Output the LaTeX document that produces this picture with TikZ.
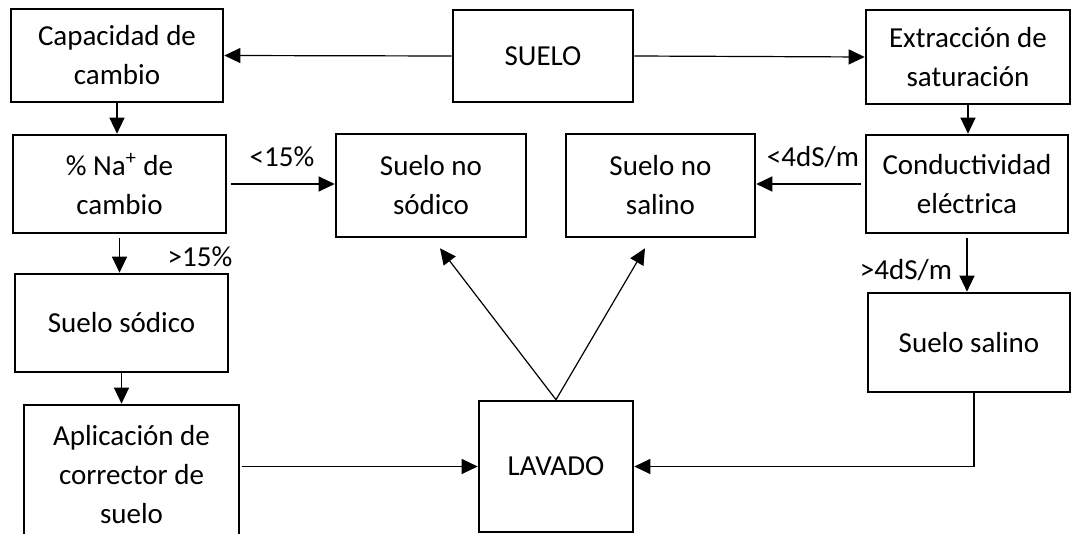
\documentclass[tikz,border=0pt]{standalone}
\usepackage{fontspec}
\setmainfont{Carlito}
\usetikzlibrary{arrows.meta}

\tikzset{
	box/.style={draw, line width=1.3pt, align=center, inner sep=0pt,
		font=\fontsize{14.5}{19.5}\selectfont},
	link/.style={->, line width=0.6pt},
	cut label/.style={font=\fontsize{14.5}{17}\selectfont},
}

\begin{document}
\begin{tikzpicture}[>={Triangle[length=8pt, width=7.5pt]}, x=0.5pt, y=-0.5pt]
	\useasboundingbox (0, 0) rectangle (1073, 534);

	% top row
	\node[box, minimum width=106pt, minimum height=46.5pt] (cap) at (117, 55.5) {Capacidad de\\cambio};
	\node[box, minimum width=90pt, minimum height=46pt] (suelo) at (543, 56) {SUELO};
	\node[box, minimum width=102pt, minimum height=47pt] (extr) at (968, 57) {Extracción de\\saturación};

	% second row
	\node[box, minimum width=106.5pt, minimum height=49pt] (na) at (119.5, 184) {\% Na\textsuperscript{+} de\\cambio};
	\node[box, minimum width=95pt, minimum height=51.5pt] (nosod) at (431, 185.5) {Suelo no\\sódico};
	\node[box, minimum width=94.5pt, minimum height=51.5pt] (nosal) at (660.5, 185.5) {Suelo no\\salino};
	\node[box, minimum width=101pt, minimum height=49pt] (cond) at (967, 184) {Conductividad\\eléctrica};

	% lower rows
	\node[box, minimum width=106.5pt, minimum height=49pt] (sod) at (121.5, 323) {Suelo sódico};
	\node[box, minimum width=101pt, minimum height=49.5pt] (salino) at (969, 342.5) {Suelo salino};
	\node[box, minimum width=107.5pt, minimum height=70pt] (aplic) at (131.5, 475) {Aplicación de\\corrector de\\suelo};
	\node[box, minimum width=77pt, minimum height=65.5pt] (lavado) at (556, 466.5) {LAVADO};

	\draw[link] (suelo.west) -- (cap.east);
	\draw[link] (suelo.east) -- (extr.west);
	\draw[link] (cap.south) -- (cap.south |- na.north);
	\draw[link] (extr.south) -- (extr.south |- cond.north);

	\draw[link, shorten <=2pt] (na.east) -- (nosod.west |- na.east);
	\draw[link, shorten <=2pt] (cond.west) -- (nosal.east |- cond.west);
	\draw[link, shorten <=2pt] (na.south) -- (na.south |- sod.north);
	\draw[link, shorten <=2pt] (cond.south) -- (cond.south |- salino.north);
	\draw[link] (sod.south) -- (sod.south |- aplic.north);

	\draw[link, shorten <=1pt] (aplic.east |- lavado.west) -- (lavado.west);
	\draw[link] ([xshift=2.5pt]salino.south) |- (lavado.east);

	\coordinate (sodtip) at ([shift={(9, 10)}]nosod.south);
	\coordinate (saltip) at ([shift={(-15.5, 10)}]nosal.south);
	\draw[link] (lavado.north) -- (sodtip);
	\draw[link] (lavado.north) -- (saltip);

	\node[cut label] (lt15) at (282, 157) {<15\%};
	\node[cut label] (gt15) at (200, 257) {>15\%};
	\node[cut label] (lt4) at (813, 157) {<4dS/m};
	\node[cut label] (gt4) at (906, 270) {>4dS/m};
\end{tikzpicture}
\end{document}
